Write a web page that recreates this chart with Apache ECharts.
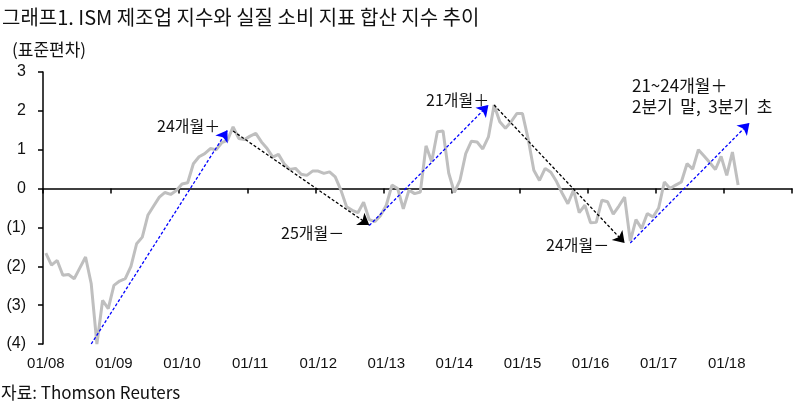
<!DOCTYPE html>
<html><head><meta charset="utf-8">
<script src="https://cdn.jsdelivr.net/npm/echarts@6/dist/echarts.min.js"></script>
<style>html,body{margin:0;padding:0;background:#fff}#c{width:800px;height:410px}</style>
</head><body><div id="c"></div>
<script>
// ---- data ----
const firstYear = 2008;
const monthCount = 132; // 2008-01 .. 2018-12 on the axis
const tickLabels = ['01/08','01/09','01/10','01/11','01/12','01/13','01/14','01/15','01/16','01/17','01/18'];
const indexValues = [
 -1.66,-1.97,-1.85,-2.23,-2.21,-2.32,-2.04,-1.76,-2.45,-4.00,-2.88,-3.09,
 -2.49,-2.38,-2.32,-2.00,-1.42,-1.25,-0.68,-0.45,-0.22,-0.10,-0.15,-0.05,
 0.12,0.15,0.64,0.82,0.90,1.03,1.00,1.18,1.24,1.59,1.29,1.26,
 1.35,1.42,1.20,1.03,0.81,0.88,0.64,0.49,0.52,0.37,0.34,0.45,
 0.45,0.39,0.43,0.30,-0.04,-0.47,-0.56,-0.62,-0.35,-0.80,-0.85,-0.69,
 -0.43,0.09,0.00,-0.52,-0.04,-0.13,-0.09,1.10,0.69,1.46,1.48,0.40,
 -0.10,0.22,0.90,1.22,1.20,1.02,1.33,2.15,1.72,1.55,1.72,1.93,
 1.93,1.28,0.47,0.21,0.52,0.42,0.18,-0.12,-0.39,-0.04,-0.62,-0.43,
 -0.88,-0.87,-0.30,-0.34,-0.66,-0.45,-0.22,-1.35,-0.80,-1.03,-0.64,-0.73,
 -0.50,0.17,0.00,0.09,0.17,0.64,0.50,1.00,0.84,0.67,0.49,0.83,
 0.34,0.94,0.09
];
// trend arrows: [startMonthIndex, startValue, endMonthIndex, endValue]
const upTrends = [[8,-4.00,32,1.50],[57,-0.95,78,2.15],[103,-1.40,124,1.69]];
const downTrends = [[33,1.48,57,-0.94],[79,2.15,102,-1.40]];
const titleText = '그래프1. ISM 제조업 지수와 실질 소비 지표 합산 지수 추이';
const unitText = '(표준편차)';
const sourceText = '자료: Thomson Reuters';
const notes = ['24개월＋','25개월－','21개월＋','24개월－','21~24개월＋','2분기  말,  3분기  초'];

// ---- build ----
const months = [];
for (let i = 0; i < monthCount; i++) {
  const y = firstYear + Math.floor(i / 12), m = i % 12 + 1;
  months.push(y + '-' + (m < 10 ? '0' + m : m));
}
const tickLabelMap = {};
tickLabels.forEach((t, k) => { tickLabelMap[months[k * 12]] = t; });

function arrowItems(list, color) {
  return list.map(a => [
    {coord: [months[a[0]], a[1]], lineStyle: {color: color}},
    {coord: [months[a[2]], a[3]], lineStyle: {color: color}}
  ]);
}

const KR = "'Noto Sans CJK KR', 'Noto Sans', sans-serif";
const NUM = "'Liberation Sans', Arial, sans-serif";

const chart = echarts.init(document.getElementById('c'), null, {renderer: 'canvas'});
function txt(s, x, y, size, family) {
  return {type: 'text', x: x, y: y, silent: true,
    style: {text: s, fill: '#111', font: size + 'px ' + family, verticalAlign: 'middle', align: 'left'}};
}
chart.setOption({
  animation: false,
  backgroundColor: '#fff',
  grid: {left: 43, right: 8, top: 72, bottom: 66, containLabel: false},
  xAxis: [{
    type: 'category', data: months, boundaryGap: true, position: 'bottom',
    axisLine: {show: true, onZero: true, lineStyle: {color: '#000', width: 1.5}},
    axisTick: {show: true, interval: 11, length: 5, inside: false, lineStyle: {color: '#000', width: 1.5}},
    axisLabel: {show: false}
  }, {
    type: 'category', data: months, boundaryGap: true, position: 'bottom',
    axisLine: {show: false, onZero: false}, axisTick: {show: false},
    axisLabel: {interval: 11, margin: 12, color: '#111', fontSize: 15, fontFamily: NUM,
      formatter: v => tickLabelMap[v] || ''}
  }],
  yAxis: {
    type: 'value', min: -4, max: 3, interval: 1,
    axisLine: {show: true, onZero: false, lineStyle: {color: '#000', width: 1.5}},
    axisTick: {show: true, length: 5, lineStyle: {color: '#000', width: 1.5}},
    splitLine: {show: false},
    axisLabel: {margin: 17, color: '#111', fontSize: 16, fontFamily: NUM,
      formatter: v => v < 0 ? '(' + (-v) + ')' : String(v)}
  },
  series: [{
    type: 'line', xAxisIndex: 0, data: indexValues, symbol: 'none', z: 2,
    lineStyle: {color: '#bfbfbf', width: 3},
    markLine: {
      silent: true, symbol: ['none', 'arrow'], symbolSize: 11, z: 5,
      label: {show: false},
      lineStyle: {type: [3, 2], width: 1.3},
      emphasis: {disabled: true},
      data: arrowItems(upTrends, '#0000ff').concat(arrowItems(downTrends, '#000000'))
    }
  }],
  graphic: [
    txt(titleText, 2, 17, 20, KR),
    txt(unitText, 12, 50, 17, KR),
    txt(sourceText, 1, 393, 17, KR),
    txt(notes[0], 157, 126, 16, KR),
    txt(notes[1], 281, 233, 16, KR),
    txt(notes[2], 426, 100, 16, KR),
    txt(notes[3], 546, 245, 16, KR),
    txt(notes[4], 632, 86, 17, KR),
    txt(notes[5], 632, 107, 17, KR)
  ]
});
</script></body></html>
